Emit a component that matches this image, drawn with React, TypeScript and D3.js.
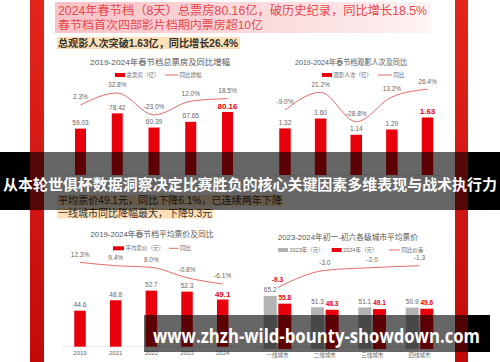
import * as d3 from 'd3';

const years = ['2019', '2021', '2022', '2023', '2024'];
const boxOffice = [59.03, 78.42, 60.39, 67.65, 80.16];
const boxOfficeYoY = [2.3, 32.8, -23.0, 12.0, 18.5];
const admissions = [1.32, 1.6, 1.14, 1.29, 1.63];
const admissionsYoY = [-9.0, 21.2, -28.8, 13.2, 26.4];
const avgPrice = [44.6, 48.8, 52.7, 52.3, 49.1];
const avgPriceYoY = [12.3, 9.4, 8.0, -0.8, -6.1];
const cityTiers = ['一线城市', '二线城市', '三线城市', '四线城市'];
const price2023 = [65.2, 51.3, 51.1, 50.9];
const price2024 = [55.8, 48.3, 49.1, 49.6];
const priceDiff = [-9.3, -3.0, -2.0, -1.3];

const FONT = '"Liberation Sans", "Noto Sans CJK SC", sans-serif';
const RED = '#e8000d';
const LINE = '#e46a6a';
const LABEL = '#666';

const T = ({ x, y, children, size = 6.5, fill = LABEL, weight = 400, anchor = 'middle', len }: any) => (
  <text x={x} y={y} fontSize={size} fill={fill} fontWeight={weight} textAnchor={anchor}
    fontFamily={FONT} textLength={len} lengthAdjust={len ? 'spacingAndGlyphs' : undefined}>
    {children}
  </text>
);

const fmtPct = (v: number) => `${v.toFixed(1)}%`;

// bars + yoy line for one year series
const BarLine = ({ xr, barDom, barRange, lineDom, lineRange, bars, yoy, digits, bw, axisY }: any) => {
  const x = d3.scalePoint<string>().domain(years).range(xr);
  const y = d3.scaleLinear().domain(barDom).range(barRange);
  const yl = d3.scaleLinear().domain(lineDom).range(lineRange);
  const path = d3.line<number>()
    .x((_, i) => x(years[i])!)
    .y((d) => yl(d))
    .curve(d3.curveMonotoneX)(yoy);
  const base = y(barDom[0]);
  return (
    <g>
      <line x1={xr[0] - 18} x2={xr[1] + 18} y1={base} y2={base} stroke="#e2e2e2" strokeWidth={0.8} />
      {bars.map((v: number, i: number) => {
        const last = i === bars.length - 1;
        return (
          <g key={i}>
            <rect x={x(years[i])! - bw / 2} y={y(v)} width={bw} height={base - y(v)} fill={RED} />
            <T x={x(years[i])} y={y(v) - (last ? 3 : 3.7)} size={last ? 8 : 6.5}
              fill={last ? RED : LABEL} weight={last ? 700 : 400}>{v.toFixed(digits)}</T>
            {axisY && <T x={x(years[i])} y={axisY} size={6}>{years[i]}</T>}
          </g>
        );
      })}
      <path d={path!} fill="none" stroke={LINE} strokeWidth={1} />
      {yoy.map((v: number, i: number) => (
        <T key={i} x={x(years[i])} y={yl(v) - 5.7}>{fmtPct(v)}</T>
      ))}
    </g>
  );
};

const Legend = ({ items, y }: any) => (
  <g>
    {items.map((it: any, i: number) => (
      <g key={i}>
        {it.line
          ? <line x1={it.x} x2={it.x + it.w} y1={y} y2={y} stroke={LINE} strokeWidth={1} />
          : <rect x={it.x} y={y - 2} width={it.w} height={4} fill={it.color} />}
        <T x={it.x + it.w + 1.5} y={y + 2} size={5.5} anchor="start">{it.label}</T>
      </g>
    ))}
  </g>
);

const Banner = ({ x, w, y, h }: any) => {
  const x2 = x + w;
  const inL = Math.max(x, 30);
  const inR = Math.min(x2, 468);
  return (
    <g>
      {x < 30 && <rect x={x} y={y} width={30 - x} height={h} fill="#000" />}
      <rect x={inL} y={y} width={inR - inL} height={h} fill="#000" opacity={0.6} />
      {x2 > 468 && <rect x={468} y={y} width={x2 - 468} height={h} fill="#000" />}
    </g>
  );
};

const CityChart = () => {
  const x = d3.scalePoint<string>().domain(cityTiers).range([277.5, 419.5]);
  const y = d3.scaleLinear().domain([0, 70]).range([349, 292.1]);
  const yl = d3.scaleLinear().domain([-9.3, -1.3]).range([287.7, 265.7]);
  const bw = 13;
  const path = d3.line<number>()
    .x((_, i) => x(cityTiers[i])!)
    .y((d) => yl(d))
    .curve(d3.curveMonotoneX)(priceDiff);
  return (
    <g>
      <line x1={255} x2={442} y1={347} y2={347} stroke="#e2e2e2" strokeWidth={0.8} />
      {cityTiers.map((c, i) => {
        const cx = x(c)!;
        return (
          <g key={c}>
            <rect x={cx - bw - 0.8} y={y(price2023[i])} width={bw} height={349 - y(price2023[i])} fill="#b3b3b3" />
            <rect x={cx + 0.8} y={y(price2024[i])} width={bw} height={349 - y(price2024[i])} fill={RED} />
            <T x={cx - bw / 2 - 0.8} y={y(price2023[i]) - 3.7}>{price2023[i].toFixed(1)}</T>
            <T x={cx + bw / 2 + 0.8} y={y(price2024[i]) - 3.7} fill={RED} weight={700}>{price2024[i].toFixed(1)}</T>
            <T x={cx} y={357} size={5.5}>{c}</T>
          </g>
        );
      })}
      <path d={path!} fill="none" stroke={LINE} strokeWidth={1} />
      {priceDiff.map((v, i) => (
        <T key={i} x={x(cityTiers[i])} y={yl(v) - 5.7} fill={i === 0 ? RED : LABEL} weight={i === 0 ? 700 : 400}>
          {v.toFixed(1)}
        </T>
      ))}
    </g>
  );
};

export default function App() {
  return (
    <svg width={500} height={362} style={{ position: 'absolute', left: 0, top: 0 }}>
      <defs>
        <linearGradient id="strip" x1="0" y1="0" x2="0" y2="1">
          <stop offset="0" stopColor="#e2261c" />
          <stop offset="1" stopColor="#c20a0a" />
        </linearGradient>
        <linearGradient id="head" x1="0" y1="0" x2="1" y2="0">
          <stop offset="0" stopColor="#f8c2c6" />
          <stop offset="0.8" stopColor="#fce6e7" />
          <stop offset="1" stopColor="#fff5f5" />
        </linearGradient>
      </defs>
      <rect width={500} height={362} fill="#fff" />
      <rect x={30} y={0} width={14} height={362} fill="url(#strip)" />
      <rect x={455} y={0} width={13} height={362} fill="url(#strip)" />

      {/* header */}
      <rect x={55} y={2} width={376} height={31} fill="url(#head)" />
      <T x={58} y={14.5} size={12} fill="#e8474c" anchor="start" len={369}>
        2024年春节档（8天）总票房80.16亿，破历史纪录，同比增长18.5%
      </T>
      <T x={58} y={28.5} size={11.5} fill="#e8474c" anchor="start" len={205}>
        春节档首次四部影片档期内票房超10亿
      </T>
      <rect x={57} y={37} width={183} height={12} fill="#fde0b6" />
      <T x={58} y={46.5} size={10} fill="#333" weight={700} anchor="start" len={180}>
        总观影人次突破1.63亿，同比增长26.4%
      </T>

      {/* chart 1 */}
      <T x={160} y={65} size={8} fill="#555" len={140}>2019-2024年春节档总票房及同比增幅</T>
      <Legend y={75} items={[
        { x: 115, w: 10, color: RED, label: '总票房（亿）' },
        { x: 165, w: 13, line: true, label: '同比增幅' },
      ]} />
      <BarLine xr={[80.5, 227.5]} barDom={[0, 100]} barRange={[175, 96.4]}
        lineDom={[-23, 32.8]} lineRange={[115, 93]} bars={boxOffice} yoy={boxOfficeYoY}
        digits={2} bw={11} />

      {/* chart 2 */}
      <T x={351} y={65} size={8} fill="#555" len={112}>2019-2024年春节档观影人次及同比</T>
      <Legend y={75} items={[
        { x: 322, w: 10, color: RED, label: '观影人次（亿）' },
        { x: 378, w: 14, line: true, label: '同比' },
      ]} />
      <BarLine xr={[285, 427.5]} barDom={[0, 2]} barRange={[175, 104.4]}
        lineDom={[-28.8, 21.2]} lineRange={[121.7, 92.3]} bars={admissions} yoy={admissionsYoY}
        digits={2} bw={11.5} />

      {/* price highlights */}
      <rect x={57} y={195} width={226} height={11} fill="#fde0b6" />
      <T x={58} y={204} size={10} fill="#333" anchor="start" len={224}>
        平均票价49.1元，同比下降6.1%，已连续两年下降
      </T>
      <rect x={57} y={207.5} width={156} height={11} fill="#fde0b6" />
      <T x={58} y={216.5} size={10} fill="#333" anchor="start" len={154}>
        一线城市同比降幅最大，下降9.3元
      </T>

      {/* chart 3 */}
      <T x={152} y={237} size={8} fill="#555" len={123}>2019-2024年春节档平均票价及同比</T>
      <Legend y={248.3} items={[
        { x: 113, w: 11, color: RED, label: '平均票价（元）' },
        { x: 169, w: 9.5, line: true, label: '同比' },
      ]} />
      <BarLine xr={[80, 222.7]} barDom={[30, 60]} barRange={[346.7, 272.6]}
        lineDom={[-6.1, 12.3]} lineRange={[284, 262.3]} bars={avgPrice} yoy={avgPriceYoY}
        digits={1} bw={11.5} axisY={354.5} />

      {/* chart 4 */}
      <T x={348} y={239.5} size={8} fill="#555" len={140}>2023-2024年初一-初六各级城市平均票价</T>
      <Legend y={250} items={[
        { x: 278, w: 10, color: '#b3b3b3', label: '2023年（元）' },
        { x: 331.7, w: 10, color: RED, label: '2024年（元）' },
        { x: 389, w: 11, line: true, label: '同比价差' },
      ]} />
      <CityChart />

      {/* overlays */}
      <Banner x={0} w={500} y={152} h={58} />
      <text x={250} y={190} fontSize={15} fill="#fff" fontWeight={700} textAnchor="middle"
        fontFamily='"Noto Sans CJK SC", sans-serif' textLength={494} lengthAdjust="spacingAndGlyphs">
        从本轮世俱杯数据洞察决定比赛胜负的核心关键因素多维表现与战术执行力
      </text>
      <Banner x={144} w={346} y={315} h={37} />
      <text x={316.5} y={343} fontSize={19} fill="#fff" fontWeight={700} textAnchor="middle"
        fontFamily='"Open Sans", "Noto Sans", sans-serif' textLength={327} lengthAdjust="spacingAndGlyphs">
        www.zhzh-wild-bounty-showdown.com
      </text>
    </svg>
  );
}
